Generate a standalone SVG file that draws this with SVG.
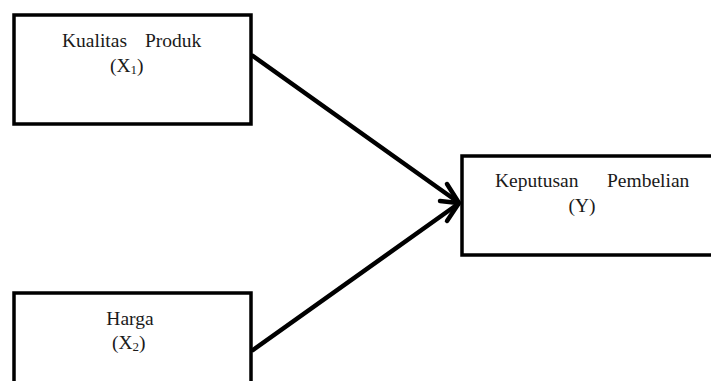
<svg xmlns="http://www.w3.org/2000/svg" width="711" height="381" viewBox="0 0 711 381">
<style>
.box{fill:#fff;stroke:#000;stroke-width:3.5}
.t{font-family:"Liberation Serif","Times New Roman",serif;font-size:19.5px;fill:#1a1a1a}
.s{font-size:13px}
.c{fill:none;stroke:#000;stroke-width:4.5;stroke-linecap:round;stroke-linejoin:round}
</style>
<g id="x1">
<rect class="box" x="14" y="15" width="237" height="109"/>
<text class="t" x="62" y="47">Kualitas</text>
<text class="t" x="145" y="47">Produk</text>
<text class="t" x="110" y="72">(X<tspan class="s" dy="2">1</tspan><tspan dy="-2">)</tspan></text>
</g>
<g id="x2">
<rect class="box" x="14" y="293" width="237" height="100"/>
<text class="t" x="130" y="325" text-anchor="middle">Harga</text>
<text class="t" x="112" y="349">(X<tspan class="s" dy="2">2</tspan><tspan dy="-2">)</tspan></text>
</g>
<g id="y">
<rect class="box" x="462" y="156" width="260" height="99"/>
<text class="t" x="495" y="187">Keputusan</text>
<text class="t" x="607" y="187">Pembelian</text>
<text class="t" x="582" y="212" text-anchor="middle">(Y)</text>
</g>
<g id="connectors">
<path class="c" d="M253 56 L458 202"/>
<path class="c" d="M253 350 L458 204"/>
<path class="c" d="M447 184 L459 203 L447 221"/>
<path class="c" d="M440 201 L458 203"/>
</g>
</svg>
